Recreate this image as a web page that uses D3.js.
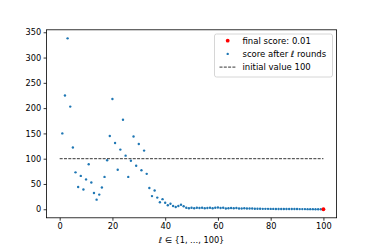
<!DOCTYPE html>
<html>
<head>
<meta charset="utf-8">
<script src="https://cdn.jsdelivr.net/npm/d3@7"></script>
<style>
  body { margin: 0; background: #fff; }
  svg text { font-family: "DejaVu Sans", sans-serif; fill: #000; }
</style>
</head>
<body>
<svg width="374" height="249"></svg>
<script>
// rounds l = 1..99, score after each round
var rounds = d3.range(1, 100);
var scores = [
  150, 225, 338, 203, 122, 73, 44, 66, 39, 59,
  89, 53, 32, 19, 29, 43, 64, 97, 145, 218,
  131, 78, 118, 177, 106, 64, 96, 144, 86, 129,
  77, 116, 70, 42, 26, 37, 23, 14, 20, 13,
  8, 11, 6.5, 4.5, 6.5, 9, 6, 3, 2, 3,
  2, 3, 2.5, 3, 2, 2.5, 3, 2, 3, 3.5,
  2.5, 3, 1.5, 2, 2.5, 2, 2.5, 1.5, 1.5, 2,
  1.5, 1.5, 1.5, 1, 1, 1, 0.8, 0.8, 0.8, 0.7,
  0.7, 0.6, 0.6, 0.6, 0.5, 0.5, 0.5, 0.4, 0.4, 0.4,
  0.3, 0.3, 0.3, 0.2, 0.2, 0.2, 0.1, 0.1, 0.1
];
var finalRound = 100, finalScore = 0.01;
var initialValue = 100;
var xTicks = [0, 20, 40, 60, 80, 100];
var yTicks = [0, 50, 100, 150, 200, 250, 300, 350];

var svg = d3.select("svg");
var axLeft = 46.5, axRight = 336.6, axTop = 29.8, axBottom = 217.8;

var x = d3.scaleLinear().domain([-5, 105]).range([axLeft, axRight]);
var y = d3.scaleLinear().domain([-16.9, 354.9]).range([axBottom, axTop]);

// initial value line
svg.append("line")
    .attr("x1", x(0)).attr("x2", x(100))
    .attr("y1", y(initialValue)).attr("y2", y(initialValue))
    .attr("stroke", "#000").attr("stroke-width", 0.8)
    .attr("stroke-dasharray", "3,1.3");

svg.append("g").selectAll("circle")
    .data(rounds)
  .enter().append("circle")
    .attr("cx", function(d) { return x(d); })
    .attr("cy", function(d, i) { return y(scores[i]); })
    .attr("r", 1.2)
    .attr("fill", "#1f77b4");

svg.append("circle")
    .attr("cx", x(finalRound)).attr("cy", y(finalScore))
    .attr("r", 1.9).attr("fill", "#ff0000");

// axes
var xAxis = svg.append("g")
    .attr("transform", "translate(0," + axBottom + ")")
    .call(d3.axisBottom(x).tickValues(xTicks).tickSize(2.9).tickPadding(2.5));
var yAxis = svg.append("g")
    .attr("transform", "translate(" + axLeft + ",0)")
    .call(d3.axisLeft(y).tickValues(yTicks).tickSize(2.9).tickPadding(2.5));

[xAxis, yAxis].forEach(function(a) {
  a.select(".domain").remove();
  a.selectAll("line").attr("stroke", "#000").attr("stroke-width", 0.8);
  a.selectAll("text").attr("font-size", "8.2px").attr("font-family", "DejaVu Sans");
});

svg.append("rect")
    .attr("x", axLeft).attr("y", axTop)
    .attr("width", axRight - axLeft).attr("height", axBottom - axTop)
    .attr("fill", "none").attr("stroke", "#000").attr("stroke-width", 0.8);

svg.append("text")
    .attr("x", (axLeft + axRight) / 2).attr("y", 243)
    .attr("text-anchor", "middle").attr("font-size", "8.2px")
    .html("<tspan font-style='italic'>ℓ</tspan> ∈ {1, …, 100}");

// legend
var legend = svg.append("g");
legend.append("rect")
    .attr("x", 214.5).attr("y", 34).attr("width", 118).attr("height", 43)
    .attr("rx", 2).attr("fill", "#fff").attr("fill-opacity", 0.8)
    .attr("stroke", "#ccc").attr("stroke-width", 0.8);

var items = [
  {label: "final score: 0.01", kind: "red"},
  {label: "score after ℓ rounds", kind: "blue"},
  {label: "initial value 100", kind: "line"}
];
items.forEach(function(it, i) {
  var cy = 40.7 + i * 13.2;
  if (it.kind === "line") {
    legend.append("line")
        .attr("x1", 219.5).attr("x2", 236).attr("y1", cy).attr("y2", cy)
        .attr("stroke", "#000").attr("stroke-width", 0.8)
        .attr("stroke-dasharray", "3,1.3");
  } else {
    legend.append("circle")
        .attr("cx", 227.7).attr("cy", cy)
        .attr("r", it.kind === "red" ? 1.9 : 1.2)
        .attr("fill", it.kind === "red" ? "#ff0000" : "#1f77b4");
  }
  legend.append("text")
      .attr("x", 242.5).attr("y", cy + 3)
      .attr("font-size", "8.5px")
      .text(it.label);
});
</script>
</body>
</html>
